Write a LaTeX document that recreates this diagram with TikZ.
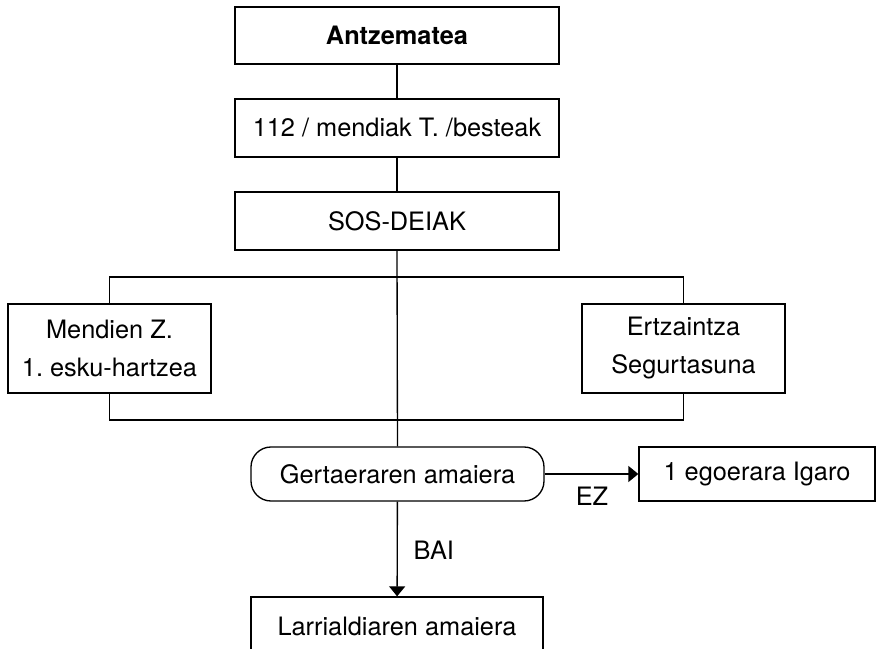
\documentclass[tikz,border=0pt]{standalone}
\usepackage{fontspec}
\setmainfont{TeX Gyre Heros}
\frenchspacing
\usetikzlibrary{arrows.meta}

\tikzset{every picture/.style={line width=1pt}}
\tikzset{
  stepbox/.style={draw, fill=white, inner sep=0pt, align=center,
    font=\fontsize{19}{28.5}\selectfont},
  endbox/.style={stepbox, rounded corners=15pt},
  flowlbl/.style={inner sep=0.75pt, font=\fontsize{19}{22}\selectfont},
  flowarr/.style={-{Triangle[length=7.5pt,width=12pt]}}
}

\begin{document}
\begin{tikzpicture}[x=0.75pt,y=0.75pt,yscale=-1,xscale=1]
\useasboundingbox (0,0) rectangle (876,649); %set diagram left start at 0, and has height of 649

% Text Node
\node [stepbox, minimum width=243pt, minimum height=42.75pt] (antz) at (397,35.5) {\bfseries Antzematea};
% Text Node
\node [stepbox, minimum width=243pt, minimum height=43.5pt] (dei) at (397,128) {112 / mendiak T. /besteak};
% Text Node
\node [stepbox, minimum width=243pt, minimum height=43.5pt] (sos) at (397,221) {SOS-DEIAK};

%Straight Lines
\draw (antz) -- (dei) ;
\draw (dei) -- (sos) ;

%Junctions
\coordinate (topj) at (397,277);
\coordinate (botj) at (397,420);

% Text Node
\node [endbox, minimum width=219.75pt, minimum height=40.5pt] (gert) at (397.5,474) {Gertaeraren amaiera};

%Straight Lines
\draw (sos.south) -- (gert.north) ;

% Text Node
\node [stepbox, minimum width=152.25pt, minimum height=66.75pt] (mend) at (109.5,348.5) {Mendien Z.\\1. esku-hartzea};
% Text Node
\node [stepbox, minimum width=152.25pt, minimum height=66.75pt] (ertz) at (683.5,348.5) {Ertzaintza\\Segurtasuna};

%Straight Lines
\draw (mend.north) |- (topj) -| (ertz.north) ;
\draw (mend.south) |- (botj) -| (ertz.south) ;

% Text Node
\node [stepbox, minimum width=177pt, minimum height=40.5pt] (igaro) at (757,474) {1 egoerara Igaro};
% Text Node
\node [stepbox, minimum width=219pt, minimum height=43.5pt] (larr) at (397,626) {Larrialdiaren amaiera};

%Straight Lines
\draw [flowarr] (gert) -- (igaro) ;
\draw [flowarr] (gert) -- (larr) ;

% Text Node
\node [flowlbl] (ez) at (592,496) {EZ};
% Text Node
\node [flowlbl, anchor=west] (bai) at (412,550) {BAI};

\end{tikzpicture}
\end{document}
